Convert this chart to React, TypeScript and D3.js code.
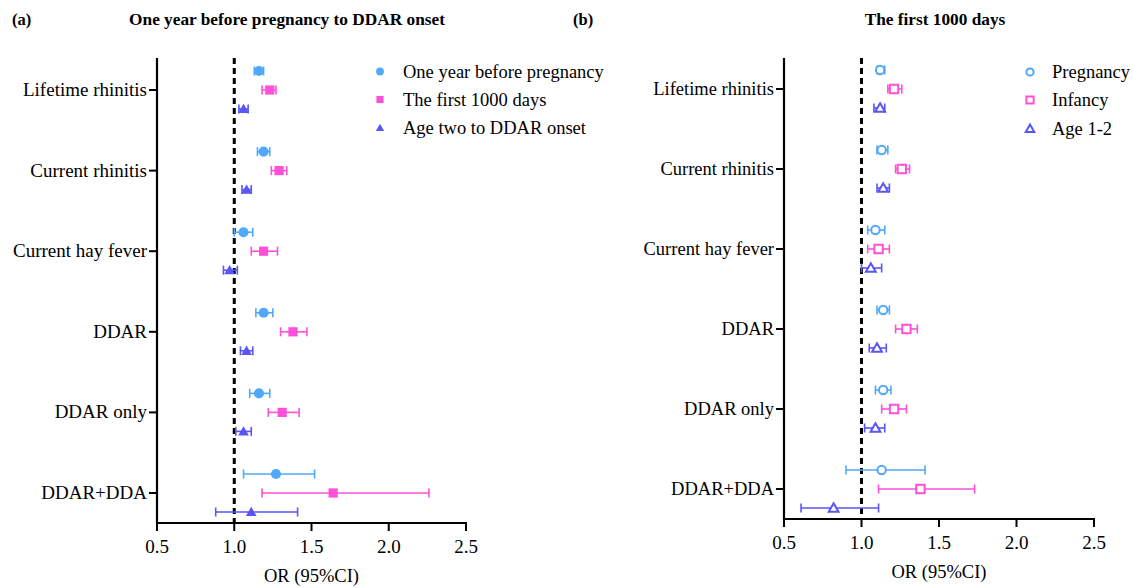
import React, { useEffect } from 'react';
import * as d3 from 'd3';

// categories (top to bottom)
const categories = ['Lifetime rhinitis', 'Current rhinitis', 'Current hay fever', 'DDAR', 'DDAR only', 'DDAR+DDA'];
const xTicks = [0.5, 1.0, 1.5, 2.0, 2.5];

// panel (a): one year before pregnancy to DDAR onset
const seriesA = ['One year before pregnancy', 'The first 1000 days', 'Age two to DDAR onset'];
const preOR = [1.16, 1.19, 1.06, 1.19, 1.16, 1.27];
const preLo = [1.13, 1.15, 1.0, 1.14, 1.1, 1.06];
const preHi = [1.19, 1.23, 1.12, 1.25, 1.23, 1.52];
const d1000OR = [1.23, 1.29, 1.19, 1.38, 1.31, 1.64];
const d1000Lo = [1.18, 1.24, 1.11, 1.3, 1.22, 1.18];
const d1000Hi = [1.27, 1.34, 1.28, 1.47, 1.42, 2.26];
const age2OR = [1.06, 1.08, 0.97, 1.08, 1.06, 1.11];
const age2Lo = [1.03, 1.05, 0.93, 1.04, 1.01, 0.88];
const age2Hi = [1.09, 1.11, 1.02, 1.12, 1.11, 1.41];

// panel (b): the first 1000 days
const seriesB = ['Pregnancy', 'Infancy', 'Age 1-2'];
const pregOR = [1.12, 1.13, 1.09, 1.14, 1.14, 1.13];
const pregLo = [1.1, 1.1, 1.04, 1.1, 1.09, 0.9];
const pregHi = [1.15, 1.17, 1.15, 1.18, 1.19, 1.41];
const infOR = [1.21, 1.26, 1.11, 1.29, 1.21, 1.38];
const infLo = [1.17, 1.22, 1.04, 1.22, 1.13, 1.11];
const infHi = [1.26, 1.31, 1.18, 1.36, 1.29, 1.73];
const a12OR = [1.12, 1.14, 1.06, 1.1, 1.09, 0.82];
const a12Lo = [1.08, 1.1, 1.0, 1.05, 1.02, 0.61];
const a12Hi = [1.15, 1.18, 1.13, 1.16, 1.15, 1.11];

const colors = ['#4FA8F8', '#FF50D8', '#5A55F8'];
const shapes = [d3.symbolCircle, d3.symbolSquare, d3.symbolTriangle];
const FONT = '"Liberation Serif", "Times New Roman", serif';

type Series = { name: string; or: number[]; lo: number[]; hi: number[] };

const panelA: Series[] = [
  { name: seriesA[0], or: preOR, lo: preLo, hi: preHi },
  { name: seriesA[1], or: d1000OR, lo: d1000Lo, hi: d1000Hi },
  { name: seriesA[2], or: age2OR, lo: age2Lo, hi: age2Hi },
];
const panelB: Series[] = [
  { name: seriesB[0], or: pregOR, lo: pregLo, hi: pregHi },
  { name: seriesB[1], or: infOR, lo: infLo, hi: infHi },
  { name: seriesB[2], or: a12OR, lo: a12Lo, hi: a12Hi },
];

const Marker = ({ i, hollow, x, y, scale = 1 }: { i: number; hollow: boolean; x: number; y: number; scale?: number }) => {
  const base = hollow ? [55, 70, 42][i] : [80, 85, 50][i];
  const p = d3.symbol().type(shapes[i]).size(base * scale)();
  const dy = i === 2 ? 1 : 0;
  return (
    <path
      d={p || ''}
      transform={`translate(${x},${y + dy})`}
      fill={hollow ? 'white' : colors[i]}
      stroke={colors[i]}
      strokeWidth={hollow ? 2 : 0}
    />
  );
};

const Panel = ({
  series, hollow, xRange, yRange, yTop, yBottom, tag, tagX, title, titleX, legX, legY, legTextX, labelSize,
}: {
  series: Series[]; hollow: boolean; xRange: [number, number]; yRange: [number, number];
  yTop: number; yBottom: number; tag: string; tagX: number; title: string; titleX: number;
  legX: number; legY: number[]; legTextX: number; labelSize: number;
}) => {
  const x = d3.scaleLinear().domain([0.5, 2.5]).range(xRange);
  const y = d3.scalePoint<string>().domain(categories).range(yRange);
  const off = 19;
  const x0 = xRange[0];
  return (
    <g style={{ fontFamily: FONT }}>
      <text x={tagX} y={25} fontSize={16.5} fontWeight="bold">{tag}</text>
      <text x={titleX} y={25} fontSize={17.3} fontWeight="bold" textAnchor="middle">{title}</text>

      {/* reference line OR = 1 */}
      <line x1={x(1)} x2={x(1)} y1={yTop} y2={yBottom} stroke="black" strokeWidth={3} strokeDasharray="6,4" />

      {/* y axis */}
      <line x1={x0} x2={x0} y1={yTop} y2={yBottom + 1} stroke="black" strokeWidth={2.2} />
      {categories.map((c) => (
        <g key={c}>
          <line x1={x0 - 8} x2={x0} y1={y(c)} y2={y(c)} stroke="black" strokeWidth={2} />
          <text x={x0 - 10} y={(y(c) as number) + 6} fontSize={labelSize} textAnchor="end">{c}</text>
        </g>
      ))}

      {/* x axis */}
      <line x1={x0 - 1} x2={xRange[1] + 1} y1={yBottom} y2={yBottom} stroke="black" strokeWidth={2.2} />
      {xTicks.map((t) => (
        <g key={t}>
          <line x1={x(t)} x2={x(t)} y1={yBottom} y2={yBottom + 8} stroke="black" strokeWidth={2} />
          <text x={x(t)} y={yBottom + 30} fontSize={19} textAnchor="middle">{t.toFixed(1)}</text>
        </g>
      ))}
      <text x={(xRange[0] + xRange[1]) / 2} y={yBottom + 59} fontSize={18.5} textAnchor="middle">OR (95%CI)</text>

      {/* error bars and points */}
      {series.map((s, si) =>
        categories.map((c, ci) => {
          const cy = (y(c) as number) + (si - 1) * off;
          return (
            <g key={`${si}-${ci}`}>
              <line x1={x(s.lo[ci])} x2={x(s.hi[ci])} y1={cy} y2={cy} stroke={colors[si]} strokeWidth={1.6} />
              <line x1={x(s.lo[ci])} x2={x(s.lo[ci])} y1={cy - 4.5} y2={cy + 4.5} stroke={colors[si]} strokeWidth={1.6} />
              <line x1={x(s.hi[ci])} x2={x(s.hi[ci])} y1={cy - 4.5} y2={cy + 4.5} stroke={colors[si]} strokeWidth={1.6} />
              <Marker i={si} hollow={hollow} x={x(s.or[ci])} y={cy} />
            </g>
          );
        })
      )}

      {/* legend */}
      {series.map((s, si) => (
        <g key={s.name}>
          <Marker i={si} hollow={hollow} x={legX} y={legY[si]} scale={hollow ? 0.75 : 0.6} />
          <text x={legTextX} y={legY[si] + 6} fontSize={18.5}>{s.name}</text>
        </g>
      ))}
    </g>
  );
};

export default function App() {
  useEffect(() => {
    document.body.style.margin = '0';
  }, []);
  return (
    <svg width={1133} height={588} style={{ position: 'absolute', left: 0, top: 0, background: 'white' }}>
      <Panel
        series={panelA} hollow={false} xRange={[157, 466]} yRange={[90, 493]} yTop={58} yBottom={523}
        tag="(a)" tagX={12} title="One year before pregnancy to DDAR onset" titleX={287}
        legX={380} legY={[71.5, 99.5, 127.5]} legTextX={403} labelSize={19}
      />
      <Panel
        series={panelB} hollow={true} xRange={[784, 1094]} yRange={[89, 489]} yTop={58} yBottom={519}
        tag="(b)" tagX={573} title="The first 1000 days" titleX={935}
        legX={1030} legY={[72, 100, 128.5]} legTextX={1052} labelSize={18.5}
      />
    </svg>
  );
}
